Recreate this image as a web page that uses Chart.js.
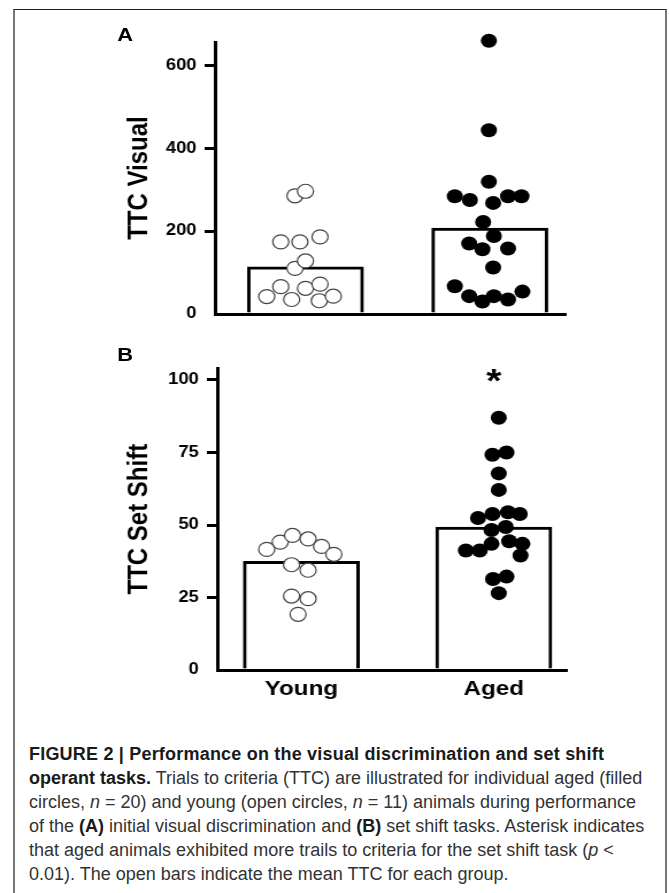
<!DOCTYPE html>
<html><head><meta charset="utf-8">
<script src="https://cdn.jsdelivr.net/npm/chart.js@4.4.1/dist/chart.umd.min.js"></script>
<style>
html,body{margin:0;padding:0;background:#fff;}
body{width:669px;height:893px;position:relative;overflow:hidden;font-family:"Liberation Sans",Arial,sans-serif;}
#frame{position:absolute;left:13px;top:9px;width:650px;height:900px;border-top:1px solid #222;border-left:2px solid #777;border-right:2px solid #777;}
#fig{position:absolute;left:0;top:0;width:582px;height:720px;transform:scaleX(1.1495);transform-origin:0 0;}
#fig canvas{position:absolute;left:0;}
.plabel{position:absolute;font-weight:bold;font-size:19px;line-height:19px;color:#000;}
#caption{position:absolute;left:29px;top:742px;font-size:18px;line-height:24px;color:#333;white-space:nowrap;}
#caption b{color:#1a1a1a;}
#caption .l1{letter-spacing:0.2px;}
</style></head>
<body>
<div id="frame"></div>
<div id="fig">
  <div class="plabel" style="left:102px;top:25px;">A</div>
  <canvas id="cA" width="582" height="334" style="top:0px;"></canvas>
  <div class="plabel" style="left:102px;top:345px;">B</div>
  <canvas id="cB" width="582" height="385" style="top:335px;"></canvas>
</div>
<div id="caption"><b class="l1">FIGURE 2 | Performance on the visual discrimination and set shift</b><br><b>operant tasks.</b> Trials to criteria (TTC) are illustrated for individual aged (filled<br>circles, <i>n</i> = 20) and young (open circles, <i>n</i> = 11) animals during performance<br>of the <b>(A)</b> initial visual discrimination and <b>(B)</b> set shift tasks. Asterisk indicates<br>that aged animals exhibited more trails to criteria for the set shift task (<i>p</i> &lt;<br>0.01). The open bars indicate the mean TTC for each group.</div>
<script>
// ---- data ----
const categories = ['Young', 'Aged'];
const visualTicks = [0, 200, 400, 600];
const shiftTicks = [0, 25, 50, 75, 100];

// Panel A: TTC Visual
const visualMeans = [114, 207];
const youngVisual = [42, 66, 35, 62, 72, 32, 43, 110, 128, 174, 174, 186, 285, 296];
const youngVisualJitter = [-0.21, -0.134, -0.075, 0, 0.079, 0.075, 0.151, -0.057, 0, -0.134, -0.03, 0.079, -0.057, 0];
const agedVisual = [659, 443, 319, 284, 275, 268, 284, 284, 222, 188, 170, 156, 158, 112, 67, 43, 30, 43, 35, 54];
const agedVisualJitter = [-0.005, -0.005, -0.005, -0.19, -0.108, 0.018, 0.099, 0.172, -0.036, 0.022, -0.112, -0.04, 0.099, 0.018, -0.19, -0.112, -0.04, 0.022, 0.099, 0.177];

// Panel B: TTC Set Shift
const shiftMeans = [37.5, 49.3];
const youngShift = [41.6, 44.1, 46.4, 45.2, 42.6, 39.9, 36.3, 34.4, 25.5, 24.6, 19.2];
const youngShiftJitter = [-0.18, -0.11, -0.046, 0.035, 0.105, 0.169, -0.051, 0.035, -0.051, 0.035, -0.017];
const agedShift = [87, 74.2, 75, 67.8, 62.1, 52.4, 53.8, 54.4, 53.8, 48.3, 49.3, 41.2, 41.2, 43.5, 44.4, 43.5, 39.5, 31.4, 32.2, 26.5];
const agedShiftJitter = [0.026, -0.007, 0.066, 0.026, 0.026, -0.082, -0.007, 0.074, 0.135, -0.012, 0.062, -0.145, -0.073, -0.012, 0.08, 0.149, 0.139, -0.004, 0.066, 0.026];

const shiftSignificance = [{ group: 'Aged', value: 101.7, text: '*' }];

// ---- rendering ----
Chart.defaults.font.family = '"Liberation Sans", Arial, sans-serif';
Chart.defaults.color = '#000';

const asteriskPlugin = {
  id: 'asterisk',
  afterDatasetsDraw(chart, args, opts) {
    if (!opts.marks || !opts.marks.length) return;
    const { ctx, scales: { x, y } } = chart;
    ctx.save();
    ctx.font = 'bold 34px "Liberation Sans", Arial, sans-serif';
    ctx.fillStyle = '#000';
    ctx.textAlign = 'center';
    ctx.textBaseline = 'middle';
    opts.marks.forEach(m => {
      const xi = categories.indexOf(m.group) + 1;
      ctx.fillText(m.text, x.getPixelForValue(xi), y.getPixelForValue(m.value) + 8);
    });
    ctx.restore();
  }
};

function toPts(vals, jit, groupIndex) {
  return vals.map((v, i) => ({ x: groupIndex + jit[i], y: v }));
}

function panel(id, o) {
  return new Chart(document.getElementById(id), {
    type: 'bar',
    plugins: [asteriskPlugin],
    data: {
      datasets: [
        { type: 'scatter', data: toPts(o.young, o.youngJ, 1), pointRadius: 7, pointHoverRadius: 7, clip: false,
          pointBackgroundColor: '#fff', pointBorderColor: '#444', pointBorderWidth: 1.2, order: 1 },
        { type: 'scatter', data: toPts(o.aged, o.agedJ, 2), pointRadius: 7, pointHoverRadius: 7, clip: false,
          pointBackgroundColor: '#000', pointBorderColor: '#000', pointBorderWidth: 0, order: 2 },
        { type: 'bar', data: o.means.map((v, i) => ({ x: i + 1, y: v })), backgroundColor: '#fff',
          borderColor: '#000', borderWidth: 3, barThickness: 101, order: 3 }
      ]
    },
    options: {
      responsive: false, animation: false, events: [],
      layout: { padding: { left: 0, right: o.padRight, top: o.padTop, bottom: 0 } },
      plugins: { legend: { display: false }, tooltip: { enabled: false }, asterisk: { marks: o.marks } },
      scales: {
        x: {
          type: 'linear', offset: false, min: o.xmin, max: o.xmax,
          afterBuildTicks: s => { s.ticks = categories.map((c, i) => ({ value: i + 1 })); },
          afterFit: s => { s.height = o.xHeight; },
          grid: { display: false, drawTicks: false, tickLength: 0 },
          border: { display: true, color: '#000', width: 3 },
          ticks: { display: o.showX, autoSkip: false, maxRotation: 0, minRotation: 0, padding: 7, color: '#000',
                   font: { size: 21, weight: 'bold' }, callback: v => categories[v - 1] ?? '' }
        },
        y: {
          type: 'linear', min: 0, max: o.ymax,
          afterBuildTicks: s => { s.ticks = o.yticks.map(v => ({ value: v })); },
          afterFit: s => { s.width = o.yWidth; },
          grid: { drawOnChartArea: false, drawTicks: true, tickLength: 9, tickWidth: 3, lineWidth: 3, color: '#000',
                  tickColor: c => (c.tick && c.tick.value === 0) ? 'rgba(0,0,0,0)' : '#000' },
          border: { display: true, color: '#000', width: 3 },
          ticks: { padding: 7, color: '#000', font: { size: 16, weight: 'bold' } },
          title: { display: true, text: o.title, color: '#000', font: { size: 24, weight: 'bold' },
                   padding: { top: 107, bottom: 0 } }
        }
      }
    }
  });
}

panel('cA', {
  young: youngVisual, youngJ: youngVisualJitter, aged: agedVisual, agedJ: agedVisualJitter,
  means: visualMeans, yticks: visualTicks, ymax: 656, title: 'TTC Visual', marks: [],
  xmin: 0.509, xmax: 2.411, padTop: 42, padRight: 90, yWidth: 187, xHeight: 20, showX: false
});
panel('cB', {
  young: youngShift, youngJ: youngShiftJitter, aged: agedShift, agedJ: agedShiftJitter,
  means: shiftMeans, yticks: shiftTicks, ymax: 104, title: 'TTC Set Shift', marks: shiftSignificance,
  xmin: 0.563, xmax: 2.379, padTop: 33.4, padRight: 89, yWidth: 189, xHeight: 50, showX: true
});
</script>
</body></html>
